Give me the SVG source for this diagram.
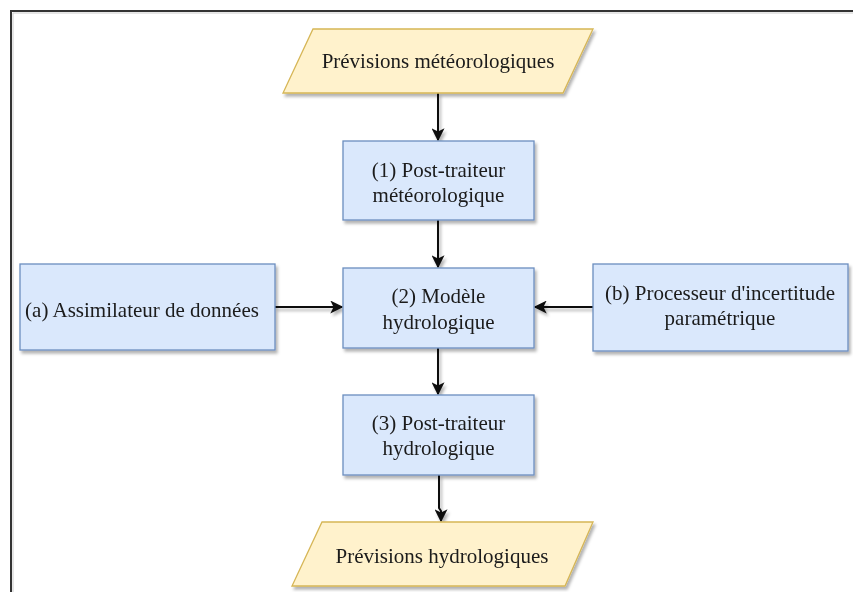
<svg xmlns="http://www.w3.org/2000/svg" width="853" height="592" viewBox="0 0 853 592">
<style>
.box{fill:#dae8fc;stroke:#6c8ebf;stroke-width:1.3;}
.io{fill:#fff2cc;stroke:#d6b656;stroke-width:1.3;}
.t{font-family:"Liberation Serif","Times New Roman",serif;font-size:21px;fill:#1a1a1a;text-anchor:middle;}
.c{stroke:#111;stroke-width:2;fill:none;}
.frame{stroke:#333;stroke-width:2;fill:none;}
</style>
<defs>
<filter id="sh" x="-10%" y="-10%" width="130%" height="140%">
<feDropShadow dx="2" dy="3" stdDeviation="1.8" flood-color="#000" flood-opacity="0.3"/>
</filter>
<marker id="arr" viewBox="0 0 10 10" refX="9" refY="5" markerWidth="6.5" markerHeight="6.5" markerUnits="strokeWidth" orient="auto">
<path d="M0,0 L10,5 L0,10 L2.5,5 Z" fill="#111"/>
</marker>
</defs>
<rect width="853" height="592" fill="#fff"/>
<path class="frame" d="M11,592 V11 H853"/>
<path d="M13,592 V13 H853" stroke="#ccc" stroke-width="1" fill="none"/>

<g id="connectors" filter="url(#sh)">
<path class="c" d="M438,93 V140" marker-end="url(#arr)"/>
<path class="c" d="M438,220 V267" marker-end="url(#arr)"/>
<path class="c" d="M275,307 H342" marker-end="url(#arr)"/>
<path class="c" d="M593,307 H535" marker-end="url(#arr)"/>
<path class="c" d="M438,348 V394" marker-end="url(#arr)"/>
<path class="c" d="M439,475 V508 L441,511 V521" marker-end="url(#arr)"/>
</g>

<g id="meteo-forecast" filter="url(#sh)">
<polygon class="io" points="313,29 593,29 563,93 283,93"/>
<text class="t" x="438" y="68">Prévisions météorologiques</text>
</g>
<g id="post-meteo" filter="url(#sh)">
<rect class="box" x="343" y="141" width="191" height="79"/>
<text class="t" x="438.5" y="177">(1) Post-traiteur</text>
<text class="t" x="438.5" y="202">météorologique</text>
</g>
<g id="assimilator" filter="url(#sh)">
<rect class="box" x="20" y="264" width="255" height="86"/>
<text class="t" x="142" y="317">(a) Assimilateur de données</text>
</g>
<g id="hydro-model" filter="url(#sh)">
<rect class="box" x="343" y="268" width="191" height="80"/>
<text class="t" x="438.5" y="303">(2) Modèle</text>
<text class="t" x="438.5" y="329">hydrologique</text>
</g>
<g id="uncertainty" filter="url(#sh)">
<rect class="box" x="593" y="264" width="255" height="87"/>
<text class="t" x="720" y="300">(b) Processeur d'incertitude</text>
<text class="t" x="720" y="325">paramétrique</text>
</g>
<g id="post-hydro" filter="url(#sh)">
<rect class="box" x="343" y="395" width="191" height="80"/>
<text class="t" x="438.5" y="430">(3) Post-traiteur</text>
<text class="t" x="438.5" y="455">hydrologique</text>
</g>
<g id="hydro-forecast" filter="url(#sh)">
<polygon class="io" points="322,522 593,522 565,586 292,586"/>
<text class="t" x="442" y="563">Prévisions hydrologiques</text>
</g>
</svg>
